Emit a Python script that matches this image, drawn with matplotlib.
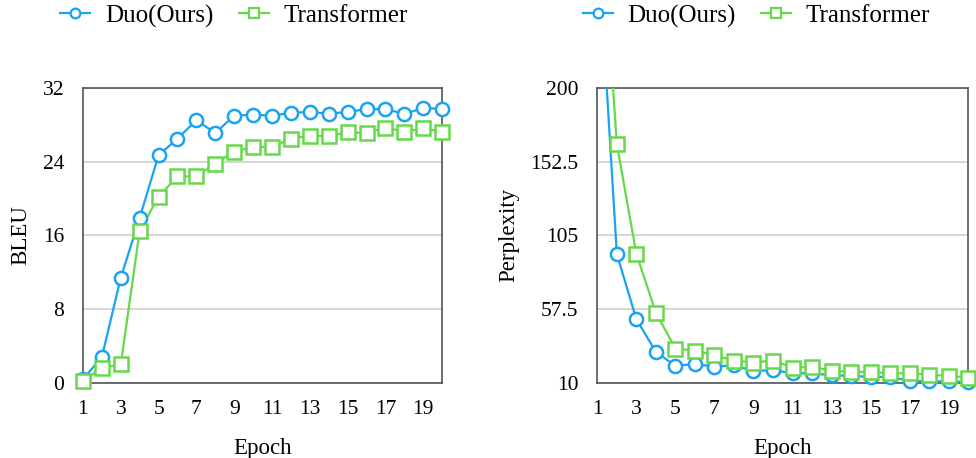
import numpy as np
import matplotlib.pyplot as plt

plt.rcParams['font.family'] = ['Liberation Serif', 'DejaVu Serif']

epochs = np.arange(1, 21)

bleu_duo = [0.4, 2.8, 11.4, 17.9, 24.7, 26.5, 28.5, 27.1, 29.0, 29.1,
            29.0, 29.3, 29.4, 29.2, 29.4, 29.7, 29.7, 29.2, 29.8, 29.75]
bleu_trans = [0.2, 1.6, 2.0, 16.5, 20.2, 22.4, 22.4, 23.8, 25.1, 25.6,
              25.6, 26.5, 26.8, 26.75, 27.2, 27.1, 27.7, 27.25, 27.6, 27.25]

ppl_duo = [300, 93.1, 51.0, 30.0, 21.0, 22.2, 20.5, 21.3, 17.7, 18.2,
           16.2, 16.2, 14.9, 14.5, 13.9, 13.9, 11.3, 11.1, 10.9, 10.7]
ppl_trans = [350, 163.9, 93.1, 55.3, 32.1, 30.8, 27.8, 24.4, 23.1, 24.4,
             19.9, 20.3, 17.9, 17.1, 17.1, 16.2, 16.2, 15.3, 14.5, 13.4]

blue = '#1aa3f0'
green = '#66d94a'


def draw(ax, ys, color, marker, label, ymax):
    ys = np.array(ys, dtype=float)
    ax.plot(epochs, ys, color=color, lw=1.6, zorder=3)
    shown = np.where(ys <= ymax, ys, np.nan)
    ax.plot(epochs, shown, ls='none', marker=marker, ms=9.5, mfc='white',
            mec=color, mew=1.8, clip_on=False, zorder=4)
    # legend proxy
    ax.plot([], [], color=color, lw=1.6, marker=marker, ms=7, mfc='white',
            mec=color, mew=1.6, label=label)


def style(ax, yticks, yticklabels, ylabel):
    ax.set_xlim(1, 20)
    ax.set_ylim(yticks[0], yticks[-1])
    ax.set_xticks(np.arange(1, 21, 2))
    ax.set_yticks(yticks)
    ax.set_yticklabels(yticklabels)
    ax.tick_params(length=0, labelsize=15.5)
    ax.tick_params(axis='x', pad=12)
    ax.tick_params(axis='y', pad=13.5)
    ax.grid(axis='y', color='#d0d0d0', lw=1.2)
    ax.set_axisbelow(True)
    for s in ax.spines.values():
        s.set_color('#555555')
        s.set_linewidth(1.2)
    ax.set_xlabel('Epoch', fontsize=16.5, labelpad=14)
    ax.set_ylabel(ylabel, fontsize=16.5, labelpad=8)


fig = plt.figure(figsize=(9.76, 4.58), dpi=100)
ax1 = fig.add_axes([0.085, 0.164, 0.368, 0.644])
ax2 = fig.add_axes([0.612, 0.164, 0.380, 0.644])

draw(ax1, bleu_duo, blue, 'o', 'Duo(Ours)', 32)
draw(ax1, bleu_trans, green, 's', 'Transformer', 32)
style(ax1, [0, 8, 16, 24, 32], ['0', '8', '16', '24', '32'], 'BLEU')

draw(ax2, ppl_duo, blue, 'o', 'Duo(Ours)', 200)
draw(ax2, ppl_trans, green, 's', 'Transformer', 200)
style(ax2, [10, 57.5, 105, 152.5, 200], ['10', '57.5', '105', '152.5', '200'],
      'Perplexity')

for ax, cx in [(ax1, 0.24), (ax2, 0.775)]:
    ax.legend(loc='center', bbox_to_anchor=(cx, 0.965),
              bbox_transform=fig.transFigure, ncol=2, frameon=False,
              fontsize=18, handlelength=1.2, handletextpad=0.6,
              columnspacing=1.0)

fig.savefig('out.png', dpi=100)
